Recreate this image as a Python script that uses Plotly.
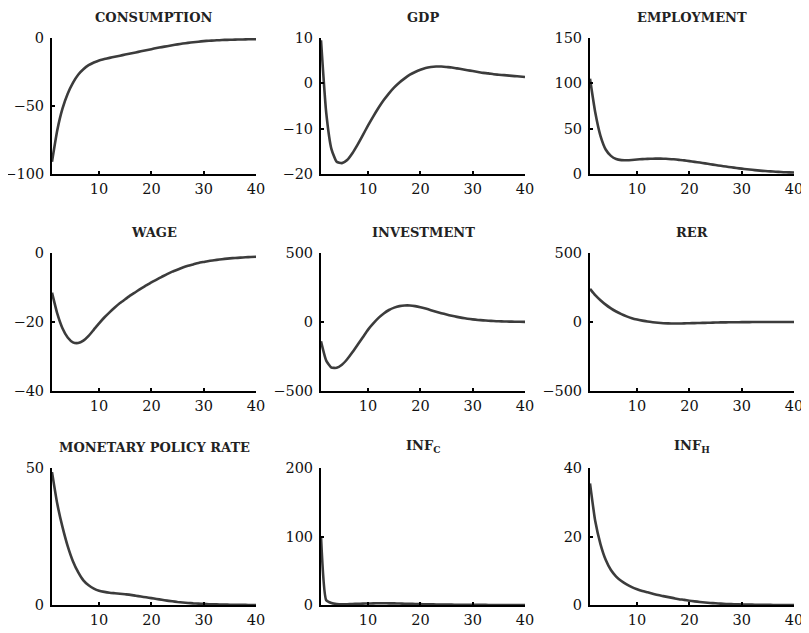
import plotly.graph_objects as go

periods = list(range(1, 41))

consumption = [-91, -68, -52, -41, -33, -27, -23, -20, -18, -16.5, -15.5, -14.6, -13.8, -13, -12.2,
               -11.4, -10.6, -9.8, -9, -8.2, -7.4, -6.7, -6, -5.3, -4.7, -4.1, -3.6, -3.1, -2.7, -2.3,
               -2.0, -1.8, -1.6, -1.4, -1.3, -1.2, -1.1, -1.0, -0.9, -0.9]
gdp = [9.5, -6.5, -14.5, -17.3, -17.6, -16.9, -15.4, -13.5, -11.4, -9.3, -7.3, -5.4, -3.7, -2.2, -0.9,
       0.2, 1.1, 1.9, 2.5, 3.0, 3.4, 3.6, 3.7, 3.7, 3.6, 3.5, 3.3, 3.1, 2.9, 2.7,
       2.5, 2.3, 2.2, 2.0, 1.9, 1.8, 1.7, 1.6, 1.5, 1.4]
employment = [105, 68, 42, 27, 20, 16.5, 15.3, 15.2, 15.5, 16.0, 16.4, 16.7, 16.9, 17.0, 16.9,
              16.6, 16.2, 15.6, 15.0, 14.2, 13.4, 12.6, 11.7, 10.8, 9.9, 9.0, 8.2, 7.4, 6.6, 5.9,
              5.2, 4.6, 4.0, 3.5, 3.1, 2.7, 2.3, 2.0, 1.8, 1.6]
wage = [-11.5, -17.5, -21.8, -24.5, -25.9, -26.1, -25.4, -24.0, -22.2, -20.4, -18.7, -17.2, -15.8, -14.5, -13.4,
        -12.3, -11.3, -10.3, -9.4, -8.5, -7.7, -6.9, -6.1, -5.4, -4.8, -4.2, -3.7, -3.3, -2.9, -2.6,
        -2.3, -2.1, -1.9, -1.7, -1.55, -1.45, -1.35, -1.25, -1.15, -1.1]
investment = [-140, -280, -330, -332, -310, -270, -220, -165, -110, -55, -10, 30, 62, 87, 104,
              115, 120, 120, 115, 107, 97, 86, 75, 64, 54, 45, 37, 30, 24, 19,
              15, 12, 9, 7, 5, 4, 3, 2, 1.5, 1]
rer = [240, 195, 158, 126, 99, 76, 57, 41, 28, 18, 10, 3, -2, -6, -9,
       -10, -11, -11, -10, -9, -8, -7, -6, -5, -4, -3, -2.5, -2, -1.5, -1,
       -0.8, -0.5, -0.3, -0.2, -0.1, 0, 0, 0, 0, 0]
policy_rate = [48.5, 37, 28.5, 21.5, 16, 12, 9, 7.2, 6, 5.2, 4.8, 4.5, 4.3, 4.1, 3.9,
               3.7, 3.4, 3.1, 2.8, 2.5, 2.2, 1.9, 1.6, 1.35, 1.1, 0.9, 0.75, 0.6, 0.5, 0.4,
               0.3, 0.25, 0.2, 0.15, 0.1, 0.1, 0.05, 0.05, 0, 0]
inf_c = [100, 7, 3, 1.5, 1, 1.2, 1.5, 1.8, 2, 2.2, 2.4, 2.5, 2.5, 2.4, 2.3,
         2.1, 1.9, 1.7, 1.5, 1.3, 1.1, 0.9, 0.8, 0.7, 0.6, 0.5, 0.4, 0.3, 0.3, 0.2,
         0.2, 0.15, 0.1, 0.1, 0.1, 0.05, 0.05, 0, 0, 0]
inf_h = [35.5, 24.5, 17.8, 13.2, 10.2, 8.3, 7.0, 6.0, 5.2, 4.6, 4.1, 3.7, 3.3, 2.9, 2.6,
         2.3, 2.0, 1.7, 1.5, 1.25, 1.05, 0.9, 0.75, 0.6, 0.5, 0.4, 0.3, 0.25, 0.2, 0.15,
         0.1, 0.1, 0.05, 0.05, 0.05, 0, 0, 0, 0, 0]

titles = ["CONSUMPTION", "GDP", "EMPLOYMENT", "WAGE", "INVESTMENT", "RER",
          "MONETARY POLICY RATE", "INF<sub>C</sub>", "INF<sub>H</sub>"]
series = [consumption, gdp, employment, wage, investment, rer, policy_rate, inf_c, inf_h]
y_ticks = [[-100, -50, 0], [-20, -10, 0, 10], [0, 50, 100, 150],
           [-40, -20, 0], [-500, 0, 500], [-500, 0, 500],
           [0, 50], [0, 100, 200], [0, 20, 40]]
x_ticks = [10, 20, 30, 40]

# the page body adds an 8px offset at top-left
OFF = 8
W, H = 809 - OFF, 633 - OFF
col_px = [(52, 256), (321, 525), (590, 794)]
row_px = [(38, 174), (253, 391), (468, 605)]

fig = go.Figure()
font_family = "DejaVu Serif"
annotations = []
layout_axes = {}
for i, (title, ys, yt) in enumerate(zip(titles, series, y_ticks)):
    r, c = divmod(i, 3)
    n = i + 1
    xa = "x" if n == 1 else f"x{n}"
    ya = "y" if n == 1 else f"y{n}"
    fig.add_trace(go.Scatter(x=periods, y=ys, mode="lines",
                             line=dict(color="#3c3c3c", width=2.6, shape="spline", smoothing=0.5),
                             xaxis=xa, yaxis=ya, showlegend=False, hoverinfo="skip"))
    x0, x1 = (v - OFF for v in col_px[c])
    y0, y1 = (v - OFF for v in row_px[r])
    xdom = [x0 / W, x1 / W]
    ydom = [1 - y1 / H, 1 - y0 / H]
    common = dict(showgrid=False, zeroline=False, showline=True, linecolor="black",
                  linewidth=2, ticks="inside", ticklen=3, tickwidth=1.5, tickcolor="black",
                  tickfont=dict(family=font_family, size=14.5, color="#111"),
                  automargin=False)
    layout_axes[f"xaxis{'' if n == 1 else n}"] = dict(
        domain=xdom, range=[1, 40], tickvals=x_ticks, anchor=ya,
        ticklabelstandoff=1, **common)
    layout_axes[f"yaxis{'' if n == 1 else n}"] = dict(
        domain=ydom, range=[yt[0], yt[-1]], tickvals=yt, anchor=xa,
        ticklabelstandoff=3, **common)
    annotations.append(dict(
        text=f"<b>{title}</b>", x=(xdom[0] + xdom[1]) / 2, y=ydom[1],
        xref="paper", yref="paper", xanchor="center", yanchor="bottom",
        yshift=11, showarrow=False,
        font=dict(family=font_family, size=13, color="#222")))

fig.update_layout(width=W, height=H, margin=dict(l=0, r=0, t=0, b=0),
                  paper_bgcolor="white", plot_bgcolor="white",
                  annotations=annotations, **layout_axes)

fig.write_html("out.html")
